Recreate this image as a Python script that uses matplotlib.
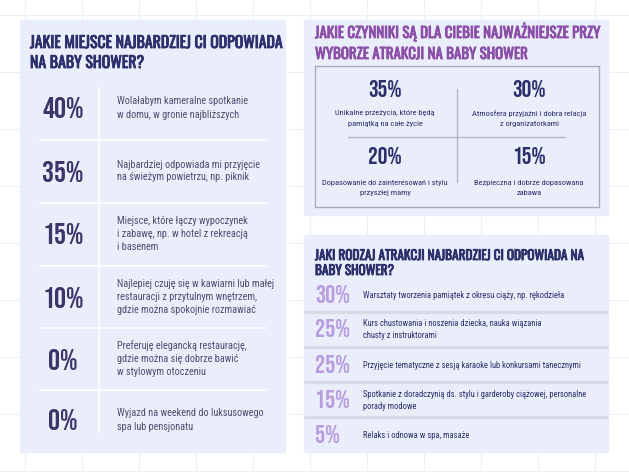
import matplotlib
matplotlib.use('Agg')
import matplotlib.pyplot as plt
import matplotlib.patheffects as pe
from matplotlib.patches import Rectangle

HEAD = ['Oswald', 'DejaVu Sans']
NUM = ['Bebas Neue', 'DejaVu Sans']
BODY = ['Roboto Condensed', 'DejaVu Sans']
plt.rcParams['font.family'] = BODY

# kolory
BG_GRID = '#eef0f6'
PANEL = '#eaeefb'
NAVY = '#2b2f6b'
DARK_PURPLE = '#3d3468'
PURPLE = '#8b4fa8'
LIGHT_PURPLE = '#b79cde'
TEXT = '#4e4e72'

# panel 1 - miejsce
title_1 = ['JAKIE MIEJSCE NAJBARDZIEJ CI ODPOWIADA', 'NA BABY SHOWER?']
place_pct = ['40%', '35%', '15%', '10%', '0%', '0%']
place_txt = [
    ['Wolałabym kameralne spotkanie', 'w domu, w gronie najbliższych'],
    ['Najbardziej odpowiada mi przyjęcie', 'na świeżym powietrzu, np. piknik'],
    ['Miejsce, które łączy wypoczynek', 'i zabawę, np. w hotel z rekreacją', 'i basenem'],
    ['Najlepiej czuję się w kawiarni lub małej', 'restauracji z przytulnym wnętrzem,',
     'gdzie można spokojnie rozmawiać'],
    ['Preferuję elegancką restaurację,', 'gdzie można się dobrze bawić', 'w stylowym otoczeniu'],
    ['Wyjazd na weekend do luksusowego', 'spa lub pensjonatu'],
]

# panel 2 - czynniki
title_2 = ['JAKIE CZYNNIKI SĄ DLA CIEBIE NAJWAŻNIEJSZE PRZY', 'WYBORZE ATRAKCJI NA BABY SHOWER']
factor_pct = ['35%', '30%', '20%', '15%']
factor_txt = [
    ['Unikalne przeżycia, które będą', 'pamiątką na całe życie'],
    ['Atmosfera przyjaźni i dobra relacja', 'z organizatorkami'],
    ['Dopasowanie do zainteresowań i stylu', 'przyszłej mamy'],
    ['Bezpieczna i dobrze dopasowana', 'zabawa'],
]

# panel 3 - atrakcje
title_3 = ['JAKI RODZAJ ATRAKCJI NAJBARDZIEJ CI ODPOWIADA NA', 'BABY SHOWER?']
attr_pct = ['30%', '25%', '25%', '15%', '5%']
attr_txt = [
    ['Warsztaty tworzenia pamiątek z okresu ciąży, np. rękodzieła'],
    ['Kurs chustowania i noszenia dziecka, nauka wiązania', 'chusty z instruktorami'],
    ['Przyjęcie tematyczne z sesją karaoke lub konkursami tanecznymi'],
    ['Spotkanie z doradczynią ds. stylu i garderoby ciążowej, personalne', 'porady modowe'],
    ['Relaks i odnowa w spa, masaże'],
]

fig = plt.figure(figsize=(6.29, 4.72), dpi=100)
ax = fig.add_axes([0, 0, 1, 1])
ax.set_xlim(0, 629)
ax.set_ylim(472, 0)
ax.axis('off')
renderer = fig.canvas.get_renderer()


def fit(txt, target_px, family):
    # dobiera rozmiar czcionki tak, by linia miała zadaną szerokość w pikselach
    t = ax.text(0, 0, txt, fontsize=10, family=family)
    w = t.get_window_extent(renderer).width
    t.remove()
    return 10 * target_px / w


def lines(x, yc, txt, step, **kw):
    # kilka linii tekstu wycentrowanych pionowo wokół yc
    y0 = yc - step * (len(txt) - 1) / 2
    for k, s in enumerate(txt):
        ax.text(x, y0 + k * step, s, va='center', zorder=3, **kw)


def title(x, y0, step, txt, target_px, color):
    # nagłówek, lekko pogrubiony obrysem w tym samym kolorze
    fs = fit(txt[0], target_px, HEAD)
    for k, s in enumerate(txt):
        ax.text(x, y0 + step * k, s, fontsize=fs, family=HEAD, color=color,
                va='baseline', ha='left', zorder=3,
                path_effects=[pe.withStroke(linewidth=0.6, foreground=color)])


# tło w kratkę
for gx in range(25, 629, 57):
    ax.axvline(gx, color=BG_GRID, lw=0.8, zorder=0)
for gy in range(15, 472, 57):
    ax.axhline(gy, color=BG_GRID, lw=0.8, zorder=0)

# --- panel 1 ---
ax.add_patch(Rectangle((20, 20), 265, 432, color=PANEL, zorder=1))
title(30, 48, 20, title_1, 252, NAVY)
ax.plot([99, 99], [88, 432], color='white', lw=1.2, zorder=2)
body1 = fit(place_txt[3][0], 156, BODY)
row_y = [108, 171, 234, 297, 359, 420]
for i, (p, t) in enumerate(zip(place_pct, place_txt)):
    y = row_y[i]
    ax.text(63, y + 10.5, p, fontsize=21.5, family=NUM, color=DARK_PURPLE,
            ha='center', va='baseline', zorder=3)
    lines(117, y, t, 13, fontsize=body1, color=TEXT, ha='left')
    if i < len(place_pct) - 1:
        sep = (row_y[i] + row_y[i + 1]) / 2
        ax.plot([40, 266], [sep, sep], color='white', lw=1.2, zorder=2)

# --- panel 2 ---
ax.add_patch(Rectangle((304, 20), 304, 195, color=PANEL, zorder=1))
title(315, 38, 21, title_2, 285, PURPLE)
ax.add_patch(Rectangle((315, 66), 284, 141, fill=False, edgecolor='#a9abb8',
                       lw=1.0, zorder=2))
ax.plot([457, 457], [89, 182], color='#b4b6c2', lw=1.0, zorder=2)
ax.plot([348, 565], [137, 137], color='#b4b6c2', lw=1.0, zorder=2)
body2 = fit(factor_txt[2][0], 126, BODY)
quad_xy = [(385, 88.5), (529, 88.5), (385, 155.5), (529, 155.5)]
desc_y = [118.5, 118.5, 188, 188]
for (qx, qy), dy, p, t in zip(quad_xy, desc_y, factor_pct, factor_txt):
    ax.text(qx, qy + 8.5, p, fontsize=17.5, family=NUM, color=NAVY,
            ha='center', va='baseline', zorder=3)
    lines(qx, dy, t, 10.5, fontsize=body2, color=NAVY, ha='center')

# --- panel 3 ---
ax.add_patch(Rectangle((304, 235), 304, 217, color=PANEL, zorder=1))
title(315, 260, 15, title_3, 268, NAVY)
body3 = fit(attr_txt[3][0], 223, BODY)
attr_base = [303, 337, 373, 408, 443]
for i, (p, t) in enumerate(zip(attr_pct, attr_txt)):
    b = attr_base[i]
    ax.text(315, b, p, fontsize=18, family=NUM, color=LIGHT_PURPLE,
            ha='left', va='baseline', zorder=3)
    lines(363, b - 7.5, t, 12, fontsize=body3, color=NAVY, ha='left')
for sep in [312, 347, 382, 417]:
    ax.plot([304, 608], [sep, sep], color='#d9dbe4', lw=2.4, zorder=2,
            solid_capstyle='butt')

fig.savefig('out.png', dpi=100)
